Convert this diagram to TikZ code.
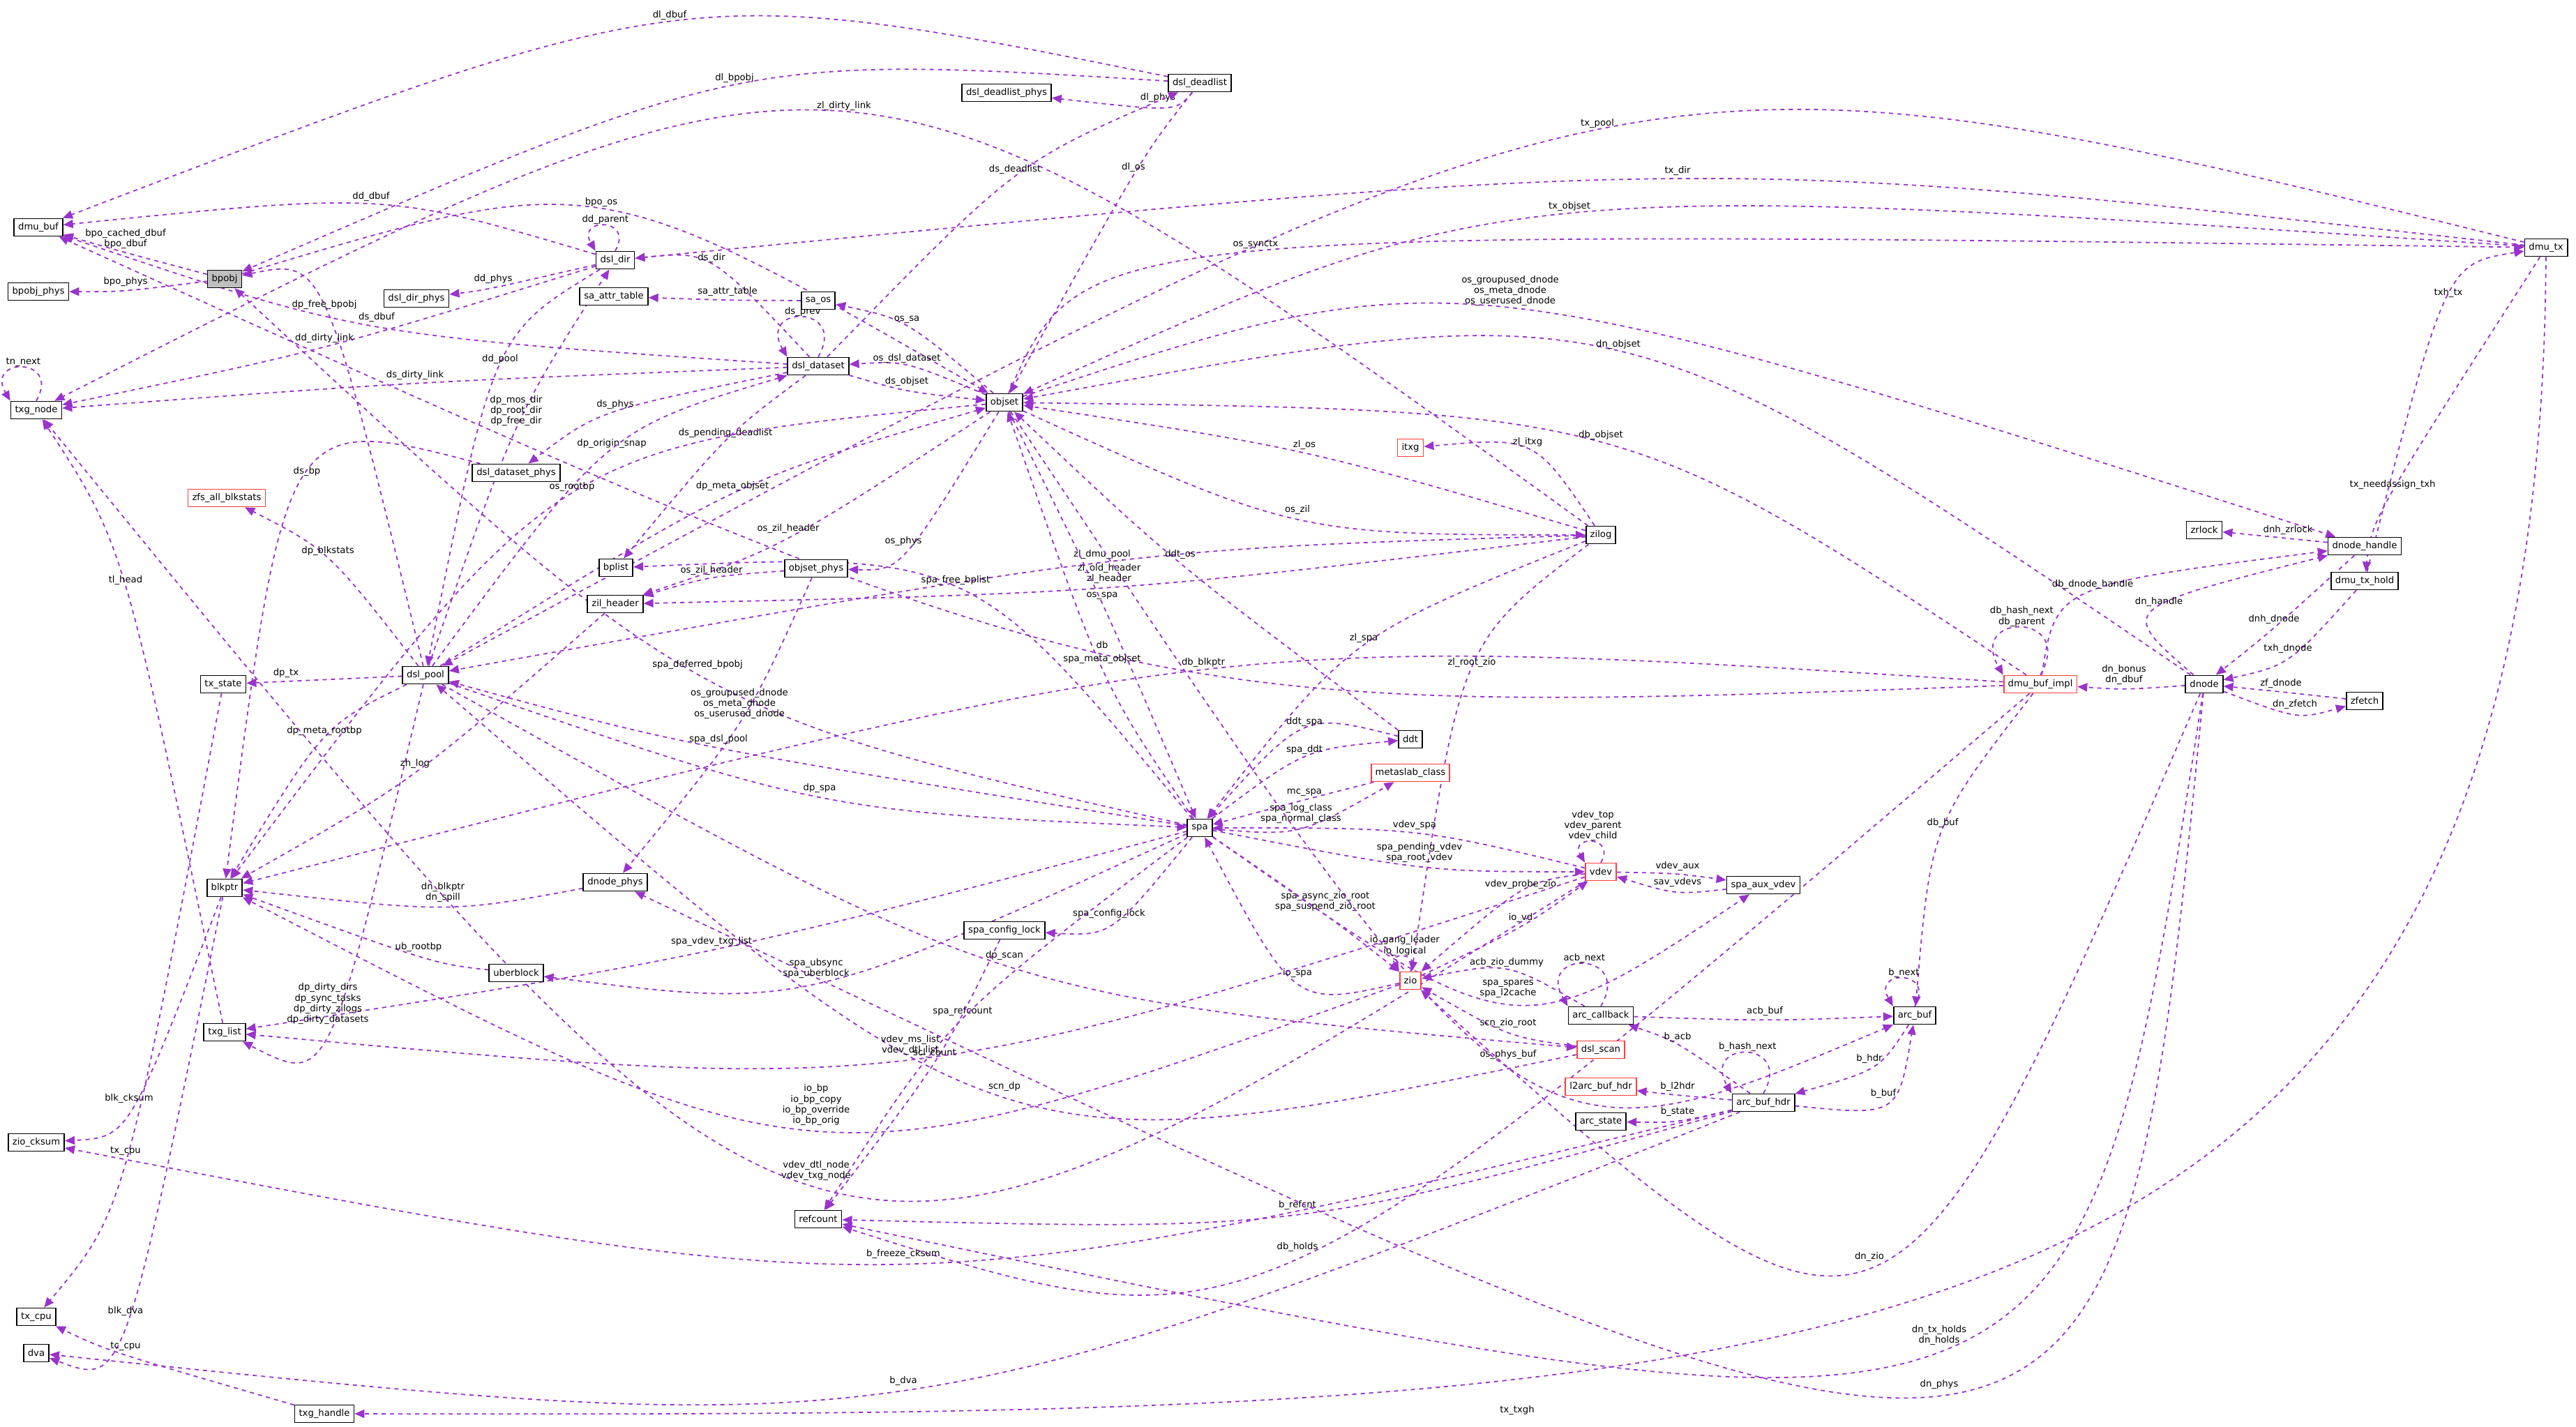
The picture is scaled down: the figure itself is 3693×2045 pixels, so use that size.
\documentclass[tikz,border=0pt]{standalone}
\usepackage{fontspec}
\setmainfont{DejaVu Sans}
\usetikzlibrary{arrows.meta,calc,backgrounds}

\definecolor{edgec}{RGB}{154,50,205}
\definecolor{boxgray}{RGB}{191,191,191}
\definecolor{boxred}{RGB}{255,60,60}

\tikzset{
  cls/.style={draw=black,line width=0.9pt,fill=white,minimum height=12.5pt,inner xsep=3pt,inner ysep=1pt,font=\fontsize{6.6}{7.6}\selectfont},
  clsred/.style={cls,draw=boxred},
  clsfocus/.style={cls,fill=boxgray},
  ed/.style={draw=edgec,line width=0.9pt,dash pattern=on 3pt off 3pt,-{Triangle[length=7pt,width=6pt]}},
  lbl/.style={font=\fontsize{6.6}{7.6}\selectfont,align=center,inner sep=0.5pt,anchor=south}
}

% connector from container #1 to member type #2, label #4 sitting at #3
\newcommand{\lnk}[4]{%
  \coordinate (lp) at (#3);
  \draw[ed] (#1) .. controls ($1.3333*(lp)-0.16667*(#1)-0.16667*(#2)+(0,5.3)$) .. (#2);
  \node[lbl] at (lp) {#4};
}

\begin{document}
\begin{tikzpicture}[x=0.5pt,y=-0.5pt]
\useasboundingbox (0,0) rectangle (3693,2045);

% classes
\node[cls] (dmubuf) at (55,326) {dmu\_buf};
\node[clsfocus] (bpobj) at (322,400) {bpobj};
\node[cls] (bpobjphys) at (55,418) {bpobj\_phys};
\node[cls] (txgnode) at (52,588) {txg\_node};
\node[cls] (dlphys) at (1443,133) {dsl\_deadlist\_phys};
\node[cls] (dl) at (1720,119) {dsl\_deadlist};
\node[cls] (dsldir) at (882,373) {dsl\_dir};
\node[cls] (dirphys) at (597,428) {dsl\_dir\_phys};
\node[cls] (saattr) at (880,425) {sa\_attr\_table};
\node[cls] (saos) at (1173,431) {sa\_os};
\node[cls] (ds) at (1173,525) {dsl\_dataset};
\node[cls] (objset) at (1440,577) {objset};
\node[cls] (dsphys) at (740,678) {dsl\_dataset\_phys};
\node[clsred] (blkstats) at (325,714) {zfs\_all\_blkstats};
\node[cls] (bplist) at (883,814) {bplist};
\node[cls] (osphys) at (1170,815) {objset\_phys};
\node[cls] (zilh) at (882,866) {zil\_header};
\node[cls] (zilog) at (2295,767) {zilog};
\node[clsred] (itxg) at (2022,642) {itxg};
\node[cls] (pool) at (610,968) {dsl\_pool};
\node[cls] (txstate) at (320,981) {tx\_state};
\node[cls] (ddt) at (2022,1060) {ddt};
\node[clsred] (mc) at (2022,1108) {metaslab\_class};
\node[cls] (spa) at (1720,1187) {spa};
\node[clsred] (vdev) at (2295,1250) {vdev};
\node[cls] (aux) at (2528,1269) {spa\_aux\_vdev};
\node[cls] (blkptr) at (322,1273) {blkptr};
\node[cls] (dnphys) at (882,1265) {dnode\_phys};
\node[cls] (scl) at (1440,1334) {spa\_config\_lock};
\node[cls] (ub) at (740,1395) {uberblock};
\node[clsred] (zio) at (2022,1406) {zio};
\node[cls] (acb) at (2295,1456) {arc\_callback};
\node[cls] (abuf) at (2745,1456) {arc\_buf};
\node[cls] (txglist) at (322,1480) {txg\_list};
\node[clsred] (scan) at (2295,1505) {dsl\_scan};
\node[clsred] (l2) at (2295,1558) {l2arc\_buf\_hdr};
\node[cls] (hdr) at (2528,1581) {arc\_buf\_hdr};
\node[cls] (astate) at (2295,1608) {arc\_state};
\node[cls] (cksum) at (52,1638) {zio\_cksum};
\node[cls] (refc) at (1173,1748) {refcount};
\node[cls] (txcpu) at (52,1888) {tx\_cpu};
\node[cls] (dva) at (52,1940) {dva};
\node[cls] (txgh) at (465,2027) {txg\_handle};
\node[cls] (dmutx) at (3650,355) {dmu\_tx};
\node[cls] (zrlock) at (3160,760) {zrlock};
\node[cls] (dnh) at (3390,783) {dnode\_handle};
\node[cls] (txhold) at (3390,833) {dmu\_tx\_hold};
\node[clsred] (dbi) at (2925,981) {dmu\_buf\_impl};
\node[cls] (dnode) at (3160,981) {dnode};
\node[cls] (zfetch) at (3390,1005) {zfetch};

\begin{pgfonlayer}{background}
% members
\lnk{bpobj}{dmubuf}{180,358}{bpo\_cached\_dbuf\\bpo\_dbuf}
\lnk{bpobj}{bpobjphys}{180,412}{bpo\_phys}
\lnk{dl}{dmubuf}{960,30}{dl\_dbuf}
\lnk{dl}{dlphys}{1660,148}{dl\_phys}
\lnk{dl}{bpobj}{1053,120}{dl\_bpobj}
\lnk{dl}{objset}{1625,248}{dl\_os}
\lnk{ds}{dl}{1455,251}{ds\_deadlist}
\lnk{zilog}{txgnode}{1210,160}{zl\_dirty\_link}
\lnk{dmutx}{pool}{2290,185}{tx\_pool}
\lnk{dmutx}{dsldir}{2405,253}{tx\_dir}
\lnk{dmutx}{objset}{2250,304}{tx\_objset}
\lnk{objset}{dmutx}{1800,358}{os\_synctx}
\lnk{objset}{dnh}{2165,440}{os\_groupused\_dnode\\os\_meta\_dnode\\os\_userused\_dnode}
\lnk{dnode}{objset}{2320,502}{dn\_objset}
\lnk{dbi}{objset}{2295,632}{db\_objset}
\lnk{dsldir}{dmubuf}{532,290}{dd\_dbuf}
\lnk{bpobj}{objset}{862,298}{bpo\_os}
\lnk{dsldir}{dirphys}{707,408}{dd\_phys}
\lnk{ds}{dsldir}{1020,378}{ds\_dir}
\lnk{saos}{saattr}{1043,426}{sa\_attr\_table}
\lnk{objset}{saos}{1300,465}{os\_sa}
\lnk{objset}{ds}{1300,522}{os\_dsl\_dataset}
\lnk{ds}{objset}{1300,555}{ds\_objset}
\lnk{ds}{dmubuf}{540,463}{ds\_dbuf}
\lnk{pool}{bpobj}{465,445}{dp\_free\_bpobj}
\lnk{dsldir}{txgnode}{465,493}{dd\_dirty\_link}
\lnk{ds}{txgnode}{595,546}{ds\_dirty\_link}
\lnk{dsldir}{pool}{717,523}{dd\_pool}
\lnk{pool}{dsldir}{740,612}{dp\_mos\_dir\\dp\_root\_dir\\dp\_free\_dir}
\lnk{ds}{dsphys}{882,588}{ds\_phys}
\lnk{pool}{ds}{877,644}{dp\_origin\_snap}
\lnk{ds}{bplist}{1040,629}{ds\_pending\_deadlist}
\lnk{dsphys}{blkptr}{440,684}{ds\_bp}
\lnk{pool}{blkstats}{470,798}{dp\_blkstats}
\lnk{objset}{blkptr}{820,706}{os\_rootbp}
\lnk{pool}{objset}{1050,705}{dp\_meta\_objset}
\lnk{objset}{zilh}{1130,766}{os\_zil\_header}
\lnk{osphys}{zilh}{1020,826}{os\_zil\_header}
\lnk{objset}{osphys}{1295,784}{os\_phys}
\lnk{zilog}{objset}{1870,646}{zl\_os}
\lnk{objset}{zilog}{1860,739}{os\_zil}
\lnk{zilog}{itxg}{2190,642}{zl\_itxg}
\lnk{zilog}{pool}{1580,803}{zl\_dmu\_pool}
\lnk{zilog}{zilh}{1590,838}{zl\_old\_header\\zl\_header}
\lnk{spa}{bplist}{1370,840}{spa\_free\_bplist}
\lnk{ddt}{objset}{1692,803}{ddt\_os}
\lnk{objset}{spa}{1580,861}{os\_spa}
\lnk{dbi}{dmubuf}{1580,931}{db}
\lnk{spa}{objset}{1580,953}{spa\_meta\_objset}
\lnk{zilog}{spa}{1955,923}{zl\_spa}
\lnk{zilog}{zio}{2110,958}{zl\_root\_zio}
\lnk{dbi}{blkptr}{1725,958}{db\_blkptr}
\lnk{dnode}{dbi}{3045,983}{dn\_bonus\\dn\_dbuf}
\lnk{dbi}{dnh}{3000,846}{db\_dnode\_handle}
\lnk{dnh}{zrlock}{3280,768}{dnh\_zrlock}
\lnk{dnode}{dnh}{3095,871}{dn\_handle}
\lnk{dnh}{dnode}{3260,896}{dnh\_dnode}
\lnk{txhold}{dnode}{3280,938}{txh\_dnode}
\lnk{zfetch}{dnode}{3270,988}{zf\_dnode}
\lnk{dnode}{zfetch}{3290,1018}{dn\_zfetch}
\lnk{txhold}{dmutx}{3510,428}{txh\_tx}
\lnk{dmutx}{txhold}{3430,703}{tx\_needassign\_txh}
\lnk{spa}{bpobj}{1000,961}{spa\_deferred\_bpobj}
\lnk{osphys}{dnphys}{1060,1032}{os\_groupused\_dnode\\os\_meta\_dnode\\os\_userused\_dnode}
\lnk{spa}{pool}{1030,1068}{spa\_dsl\_pool}
\lnk{pool}{txstate}{410,973}{dp\_tx}
\lnk{pool}{blkptr}{465,1056}{dp\_meta\_rootbp}
\lnk{pool}{spa}{1175,1138}{dp\_spa}
\lnk{zilh}{blkptr}{595,1103}{zh\_log}
\lnk{txglist}{txgnode}{180,840}{tl\_head}
\lnk{ddt}{spa}{1870,1043}{ddt\_spa}
\lnk{spa}{ddt}{1870,1083}{spa\_ddt}
\lnk{mc}{spa}{1870,1143}{mc\_spa}
\lnk{spa}{mc}{1865,1182}{spa\_log\_class\\spa\_normal\_class}
\lnk{vdev}{spa}{2028,1191}{vdev\_spa}
\lnk{spa}{vdev}{2035,1238}{spa\_pending\_vdev\\spa\_root\_vdev}
\lnk{vdev}{aux}{2405,1250}{vdev\_aux}
\lnk{aux}{vdev}{2405,1273}{sav\_vdevs}
\lnk{vdev}{zio}{2180,1276}{vdev\_probe\_zio}
\lnk{spa}{zio}{1900,1308}{spa\_async\_zio\_root\\spa\_suspend\_zio\_root}
\lnk{zio}{vdev}{2180,1324}{io\_vd}
\lnk{zio}{spa}{1860,1403}{io\_spa}
\lnk{acb}{zio}{2160,1388}{acb\_zio\_dummy}
\lnk{acb}{abuf}{2530,1458}{acb\_buf}
\lnk{spa}{aux}{2162,1432}{spa\_spares\\spa\_l2cache}
\lnk{scan}{zio}{2162,1475}{scn\_zio\_root}
\lnk{objset}{abuf}{2162,1520}{os\_phys\_buf}
\lnk{hdr}{acb}{2405,1495}{b\_acb}
\lnk{abuf}{hdr}{2680,1526}{b\_hdr}
\lnk{hdr}{abuf}{2700,1576}{b\_buf}
\lnk{hdr}{l2}{2405,1566}{b\_l2hdr}
\lnk{hdr}{astate}{2405,1602}{b\_state}
\lnk{dbi}{abuf}{2785,1188}{db\_buf}
\lnk{spa}{scl}{1590,1318}{spa\_config\_lock}
\lnk{pool}{scan}{1440,1378}{dp\_scan}
\lnk{scan}{pool}{1440,1566}{scn\_dp}
\lnk{spa}{refc}{1380,1458}{spa\_refcount}
\lnk{scl}{refc}{1340,1518}{scl\_count}
\lnk{hdr}{refc}{1860,1736}{b\_refcnt}
\lnk{dbi}{refc}{1860,1796}{db\_holds}
\lnk{dnode}{refc}{2780,1930}{dn\_tx\_holds\\dn\_holds}
\lnk{hdr}{cksum}{1295,1806}{b\_freeze\_cksum}
\lnk{blkptr}{cksum}{185,1583}{blk\_cksum}
\lnk{txstate}{txcpu}{180,1658}{tx\_cpu}
\lnk{blkptr}{dva}{180,1888}{blk\_dva}
\lnk{txgh}{txcpu}{180,1938}{tc\_cpu}
\lnk{hdr}{dva}{1295,1988}{b\_dva}
\lnk{dnode}{dnphys}{2780,1993}{dn\_phys}
\lnk{dnode}{zio}{2680,1810}{dn\_zio}
\lnk{dnphys}{blkptr}{635,1295}{dn\_blkptr\\dn\_spill}
\lnk{ub}{blkptr}{600,1366}{ub\_rootbp}
\lnk{spa}{ub}{1170,1404}{spa\_ubsync\\spa\_uberblock}
\lnk{spa}{txglist}{1020,1358}{spa\_vdev\_txg\_list}
\lnk{pool}{txglist}{470,1470}{dp\_dirty\_dirs\\dp\_sync\_tasks\\dp\_dirty\_zilogs\\dp\_dirty\_datasets}
\lnk{vdev}{txglist}{1305,1514}{vdev\_ms\_list\\vdev\_dtl\_list}
\lnk{zio}{blkptr}{1170,1615}{io\_bp\\io\_bp\_copy\\io\_bp\_override\\io\_bp\_orig}
\lnk{vdev}{txgnode}{1170,1694}{vdev\_dtl\_node\\vdev\_txg\_node}
% long way round along the bottom
\draw[ed] (dmutx) .. controls (3640,2030) and (2600,2030) .. (txgh);
\node[lbl] at (2175,2030) {tx\_txgh};
% self references
\draw[ed] (txgnode.north) to[out=60,in=120,looseness=5] node[lbl,above]{tn\_next} (txgnode.north west);
\draw[ed] (dsldir.north) to[out=60,in=120,looseness=5] node[lbl,above]{dd\_parent} (dsldir.north west);
\draw[ed] (ds.north) to[out=60,in=120,looseness=5] node[lbl,above]{ds\_prev} (ds.north west);
\draw[ed] (dbi.north) to[out=60,in=120,looseness=5] node[lbl,above]{db\_hash\_next\\db\_parent} (dbi.north west);
\draw[ed] (vdev.north) to[out=60,in=120,looseness=5] node[lbl,above]{vdev\_top\\vdev\_parent\\vdev\_child} (vdev.north west);
\draw[ed] (zio.north) to[out=60,in=120,looseness=5] node[lbl,above]{io\_gang\_leader\\io\_logical} (zio.north west);
\draw[ed] (acb.north) to[out=60,in=120,looseness=5] node[lbl,above]{acb\_next} (acb.north west);
\draw[ed] (abuf.north) to[out=60,in=120,looseness=5] node[lbl,above]{b\_next} (abuf.north west);
\draw[ed] (hdr.north) to[out=60,in=120,looseness=5] node[lbl,above]{b\_hash\_next} (hdr.north west);
\end{pgfonlayer}
\end{tikzpicture}
\end{document}
